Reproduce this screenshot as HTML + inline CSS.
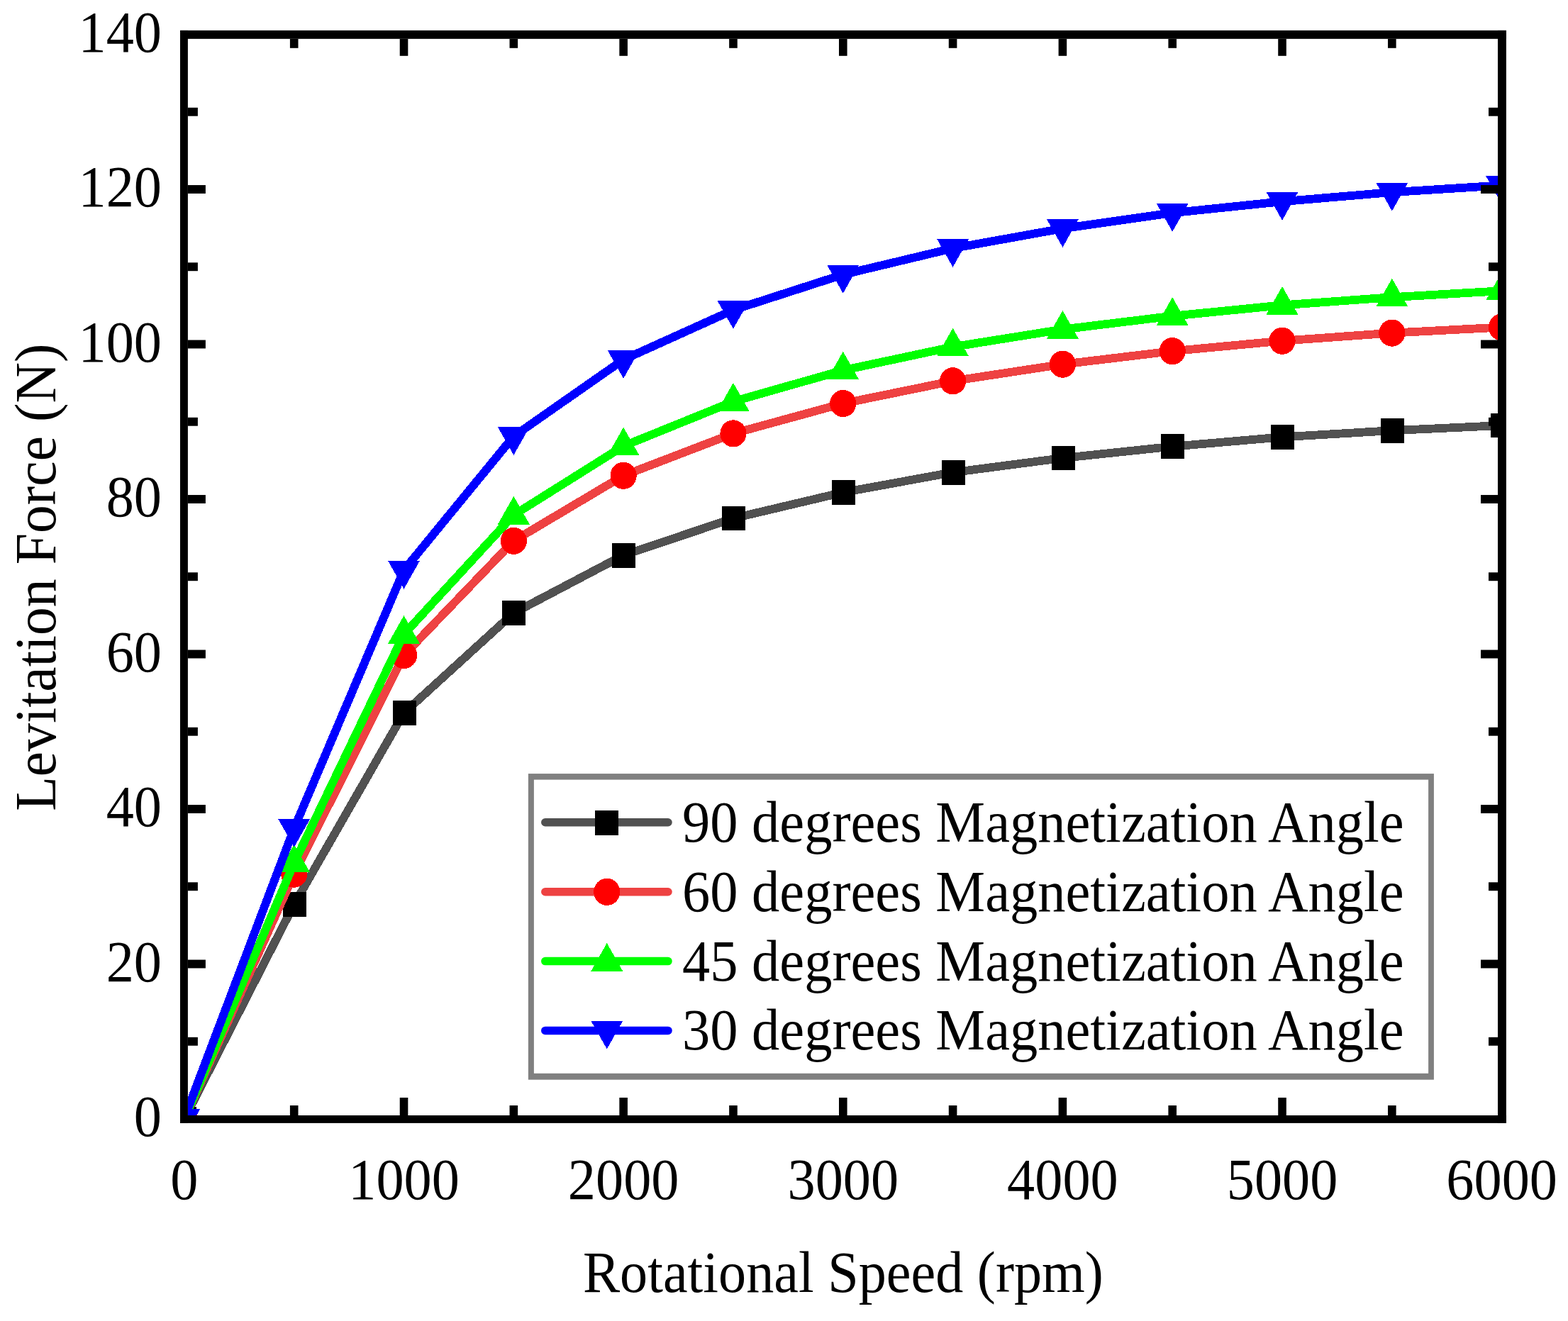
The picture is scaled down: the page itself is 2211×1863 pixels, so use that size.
<!DOCTYPE html>
<html><head><meta charset="utf-8"><title>Levitation Force vs Rotational Speed</title>
<style>html,body{margin:0;padding:0;background:#fff;}svg{display:block;}</style></head>
<body>
<svg width="2211" height="1863" viewBox="0 0 2211 1863" font-family="'Liberation Serif', 'Times New Roman', serif" font-size="78.3" fill="#000">
<defs><clipPath id="c"><rect x="264.9" y="54.8" width="1847.1" height="1518.2"/></clipPath></defs>
<rect width="2211" height="1863" fill="#fff"/>
<g clip-path="url(#c)" shape-rendering="crispEdges"><polyline points="259.90,1578.00 414.71,1275.50 569.52,1005.50 724.34,864.50 879.15,783.10 1033.96,731.00 1188.78,694.40 1343.59,666.20 1498.40,646.00 1653.21,629.70 1808.03,616.40 1962.84,607.20 2117.65,600.00" fill="none" stroke="#515151" stroke-width="11.8" stroke-linejoin="round" stroke-linecap="round"/><rect x="244.00" y="1560.60" width="33.0" height="34.8" fill="#000000"/><rect x="398.81" y="1258.10" width="33.0" height="34.8" fill="#000000"/><rect x="553.62" y="988.10" width="33.0" height="34.8" fill="#000000"/><rect x="708.44" y="847.10" width="33.0" height="34.8" fill="#000000"/><rect x="863.25" y="765.70" width="33.0" height="34.8" fill="#000000"/><rect x="1018.06" y="713.60" width="33.0" height="34.8" fill="#000000"/><rect x="1172.88" y="677.00" width="33.0" height="34.8" fill="#000000"/><rect x="1327.69" y="648.80" width="33.0" height="34.8" fill="#000000"/><rect x="1482.50" y="628.60" width="33.0" height="34.8" fill="#000000"/><rect x="1637.31" y="612.30" width="33.0" height="34.8" fill="#000000"/><rect x="1792.12" y="599.00" width="33.0" height="34.8" fill="#000000"/><rect x="1946.94" y="589.80" width="33.0" height="34.8" fill="#000000"/><rect x="2101.75" y="582.60" width="33.0" height="34.8" fill="#000000"/><polyline points="259.90,1578.00 414.71,1232.60 569.52,924.00 724.34,762.80 879.15,670.75 1033.96,611.40 1188.78,569.00 1343.59,537.30 1498.40,513.70 1653.21,495.20 1808.03,480.70 1962.84,469.60 2117.65,461.50" fill="none" stroke="#EE4242" stroke-width="11.8" stroke-linejoin="round" stroke-linecap="round"/><ellipse cx="259.90" cy="1578.00" rx="18.6" ry="19.1" fill="#FF0000"/><ellipse cx="414.71" cy="1232.60" rx="18.6" ry="19.1" fill="#FF0000"/><ellipse cx="569.52" cy="924.00" rx="18.6" ry="19.1" fill="#FF0000"/><ellipse cx="724.34" cy="762.80" rx="18.6" ry="19.1" fill="#FF0000"/><ellipse cx="879.15" cy="670.75" rx="18.6" ry="19.1" fill="#FF0000"/><ellipse cx="1033.96" cy="611.40" rx="18.6" ry="19.1" fill="#FF0000"/><ellipse cx="1188.78" cy="569.00" rx="18.6" ry="19.1" fill="#FF0000"/><ellipse cx="1343.59" cy="537.30" rx="18.6" ry="19.1" fill="#FF0000"/><ellipse cx="1498.40" cy="513.70" rx="18.6" ry="19.1" fill="#FF0000"/><ellipse cx="1653.21" cy="495.20" rx="18.6" ry="19.1" fill="#FF0000"/><ellipse cx="1808.03" cy="480.70" rx="18.6" ry="19.1" fill="#FF0000"/><ellipse cx="1962.84" cy="469.60" rx="18.6" ry="19.1" fill="#FF0000"/><ellipse cx="2117.65" cy="461.50" rx="18.6" ry="19.1" fill="#FF0000"/><polyline points="259.90,1578.00 414.71,1217.20 569.52,894.60 724.34,726.30 879.15,629.10 1033.96,566.30 1188.78,522.20 1343.59,489.20 1498.40,464.50 1653.21,445.70 1808.03,430.40 1962.84,419.20 2117.65,410.20" fill="none" stroke="#00FF00" stroke-width="11.8" stroke-linejoin="round" stroke-linecap="round"/><polygon points="259.90,1551.47 282.40,1591.27 237.40,1591.27" fill="#00FF00"/><polygon points="414.71,1190.67 437.21,1230.47 392.21,1230.47" fill="#00FF00"/><polygon points="569.52,868.07 592.02,907.87 547.02,907.87" fill="#00FF00"/><polygon points="724.34,699.77 746.84,739.57 701.84,739.57" fill="#00FF00"/><polygon points="879.15,602.57 901.65,642.37 856.65,642.37" fill="#00FF00"/><polygon points="1033.96,539.77 1056.46,579.57 1011.46,579.57" fill="#00FF00"/><polygon points="1188.78,495.67 1211.28,535.47 1166.28,535.47" fill="#00FF00"/><polygon points="1343.59,462.67 1366.09,502.47 1321.09,502.47" fill="#00FF00"/><polygon points="1498.40,437.97 1520.90,477.77 1475.90,477.77" fill="#00FF00"/><polygon points="1653.21,419.17 1675.71,458.97 1630.71,458.97" fill="#00FF00"/><polygon points="1808.03,403.87 1830.53,443.67 1785.53,443.67" fill="#00FF00"/><polygon points="1962.84,392.67 1985.34,432.47 1940.34,432.47" fill="#00FF00"/><polygon points="2117.65,383.67 2140.15,423.47 2095.15,423.47" fill="#00FF00"/><polyline points="259.90,1577.00 414.71,1168.30 569.52,804.10 724.34,615.30 879.15,507.20 1033.96,437.20 1188.78,387.20 1343.59,350.20 1498.40,322.30 1653.21,300.20 1808.03,284.20 1962.84,271.10 2117.65,261.40" fill="none" stroke="#0000FF" stroke-width="11.8" stroke-linejoin="round" stroke-linecap="round"/><polygon points="237.40,1563.73 282.40,1563.73 259.90,1603.53" fill="#0000FF"/><polygon points="392.21,1155.03 437.21,1155.03 414.71,1194.83" fill="#0000FF"/><polygon points="547.02,790.83 592.02,790.83 569.52,830.63" fill="#0000FF"/><polygon points="701.84,602.03 746.84,602.03 724.34,641.83" fill="#0000FF"/><polygon points="856.65,493.93 901.65,493.93 879.15,533.73" fill="#0000FF"/><polygon points="1011.46,423.93 1056.46,423.93 1033.96,463.73" fill="#0000FF"/><polygon points="1166.28,373.93 1211.28,373.93 1188.78,413.73" fill="#0000FF"/><polygon points="1321.09,336.93 1366.09,336.93 1343.59,376.73" fill="#0000FF"/><polygon points="1475.90,309.03 1520.90,309.03 1498.40,348.83" fill="#0000FF"/><polygon points="1630.71,286.93 1675.71,286.93 1653.21,326.73" fill="#0000FF"/><polygon points="1785.53,270.93 1830.53,270.93 1808.03,310.73" fill="#0000FF"/><polygon points="1940.34,257.83 1985.34,257.83 1962.84,297.63" fill="#0000FF"/><polygon points="2095.15,248.13 2140.15,248.13 2117.65,287.93" fill="#0000FF"/></g>
<g fill="#000"><rect x="254.00" y="42.90" width="10.90" height="1541.00"/><rect x="2112.00" y="42.90" width="11.90" height="1541.00"/><rect x="254.00" y="42.90" width="1869.90" height="11.90"/><rect x="254.00" y="1573.00" width="1869.90" height="10.90"/><rect x="408.91" y="1559.00" width="11.60" height="14.00"/><rect x="408.91" y="54.80" width="11.60" height="13.00"/><rect x="563.73" y="1548.00" width="11.60" height="25.00"/><rect x="563.73" y="54.80" width="11.60" height="24.00"/><rect x="718.54" y="1559.00" width="11.60" height="14.00"/><rect x="718.54" y="54.80" width="11.60" height="13.00"/><rect x="873.35" y="1548.00" width="11.60" height="25.00"/><rect x="873.35" y="54.80" width="11.60" height="24.00"/><rect x="1028.16" y="1559.00" width="11.60" height="14.00"/><rect x="1028.16" y="54.80" width="11.60" height="13.00"/><rect x="1182.98" y="1548.00" width="11.60" height="25.00"/><rect x="1182.98" y="54.80" width="11.60" height="24.00"/><rect x="1337.79" y="1559.00" width="11.60" height="14.00"/><rect x="1337.79" y="54.80" width="11.60" height="13.00"/><rect x="1492.60" y="1548.00" width="11.60" height="25.00"/><rect x="1492.60" y="54.80" width="11.60" height="24.00"/><rect x="1647.41" y="1559.00" width="11.60" height="14.00"/><rect x="1647.41" y="54.80" width="11.60" height="13.00"/><rect x="1802.23" y="1548.00" width="11.60" height="25.00"/><rect x="1802.23" y="54.80" width="11.60" height="24.00"/><rect x="1957.04" y="1559.00" width="11.60" height="14.00"/><rect x="1957.04" y="54.80" width="11.60" height="13.00"/><rect x="264.90" y="1462.80" width="14.00" height="11.90"/><rect x="2099.00" y="1462.80" width="13.00" height="11.90"/><rect x="264.90" y="1353.55" width="25.00" height="11.90"/><rect x="2088.00" y="1353.55" width="24.00" height="11.90"/><rect x="264.90" y="1244.30" width="14.00" height="11.90"/><rect x="2099.00" y="1244.30" width="13.00" height="11.90"/><rect x="264.90" y="1135.05" width="25.00" height="11.90"/><rect x="2088.00" y="1135.05" width="24.00" height="11.90"/><rect x="264.90" y="1025.80" width="14.00" height="11.90"/><rect x="2099.00" y="1025.80" width="13.00" height="11.90"/><rect x="264.90" y="916.55" width="25.00" height="11.90"/><rect x="2088.00" y="916.55" width="24.00" height="11.90"/><rect x="264.90" y="807.30" width="14.00" height="11.90"/><rect x="2099.00" y="807.30" width="13.00" height="11.90"/><rect x="264.90" y="698.05" width="25.00" height="11.90"/><rect x="2088.00" y="698.05" width="24.00" height="11.90"/><rect x="264.90" y="588.80" width="14.00" height="11.90"/><rect x="2099.00" y="588.80" width="13.00" height="11.90"/><rect x="264.90" y="479.55" width="25.00" height="11.90"/><rect x="2088.00" y="479.55" width="24.00" height="11.90"/><rect x="264.90" y="370.30" width="14.00" height="11.90"/><rect x="2099.00" y="370.30" width="13.00" height="11.90"/><rect x="264.90" y="261.05" width="25.00" height="11.90"/><rect x="2088.00" y="261.05" width="24.00" height="11.90"/><rect x="264.90" y="151.80" width="14.00" height="11.90"/><rect x="2099.00" y="151.80" width="13.00" height="11.90"/></g>
<rect x="744.9" y="1091.1" width="1277.0" height="431.6" fill="#808080"/><rect x="752.9" y="1099.6" width="1261.2" height="414.2" fill="#fff"/>
<line x1="768.8" y1="1159.7" x2="942" y2="1159.7" stroke="#515151" stroke-width="11.5" stroke-linecap="round"/>
<g shape-rendering="crispEdges"><rect x="839.30" y="1143.10" width="33.0" height="34.8" fill="#000000"/></g>
<text transform="translate(962.00,1187.00) scale(1,1.0556)" font-size="78.48" text-anchor="start">90 degrees Magnetization Angle</text>
<line x1="768.8" y1="1257.7" x2="942" y2="1257.7" stroke="#EE4242" stroke-width="11.5" stroke-linecap="round"/>
<g shape-rendering="crispEdges"><ellipse cx="855.80" cy="1257.80" rx="18.6" ry="19.1" fill="#FF0000"/></g>
<text transform="translate(962.00,1285.00) scale(1,1.0556)" font-size="78.48" text-anchor="start">60 degrees Magnetization Angle</text>
<line x1="768.8" y1="1355.6" x2="942" y2="1355.6" stroke="#00FF00" stroke-width="11.5" stroke-linecap="round"/>
<g shape-rendering="crispEdges"><polygon points="855.80,1329.97 878.30,1369.77 833.30,1369.77" fill="#00FF00"/></g>
<text transform="translate(962.00,1382.90) scale(1,1.0556)" font-size="78.48" text-anchor="start">45 degrees Magnetization Angle</text>
<line x1="768.8" y1="1453.4" x2="942" y2="1453.4" stroke="#0000FF" stroke-width="11.5" stroke-linecap="round"/>
<g shape-rendering="crispEdges"><polygon points="833.30,1439.63 878.30,1439.63 855.80,1479.43" fill="#0000FF"/></g>
<text transform="translate(962.00,1479.70) scale(1,1.0556)" font-size="78.48" text-anchor="start">30 degrees Magnetization Angle</text>
<text transform="translate(228.00,1602.30) scale(1,1.0542)" font-size="78.30" text-anchor="end">0</text>
<text transform="translate(228.00,1383.80) scale(1,1.0542)" font-size="78.30" text-anchor="end">20</text>
<text transform="translate(228.00,1165.30) scale(1,1.0542)" font-size="78.30" text-anchor="end">40</text>
<text transform="translate(228.00,946.80) scale(1,1.0542)" font-size="78.30" text-anchor="end">60</text>
<text transform="translate(228.00,728.30) scale(1,1.0542)" font-size="78.30" text-anchor="end">80</text>
<text transform="translate(228.00,509.80) scale(1,1.0542)" font-size="78.30" text-anchor="end">100</text>
<text transform="translate(228.00,291.30) scale(1,1.0542)" font-size="78.30" text-anchor="end">120</text>
<text transform="translate(228.00,72.80) scale(1,1.0542)" font-size="78.30" text-anchor="end">140</text>
<text transform="translate(259.90,1690.70) scale(1,1.0454)" font-size="78.30" text-anchor="middle">0</text>
<text transform="translate(569.52,1690.70) scale(1,1.0454)" font-size="78.30" text-anchor="middle">1000</text>
<text transform="translate(879.15,1690.70) scale(1,1.0454)" font-size="78.30" text-anchor="middle">2000</text>
<text transform="translate(1188.78,1690.70) scale(1,1.0454)" font-size="78.30" text-anchor="middle">3000</text>
<text transform="translate(1498.40,1690.70) scale(1,1.0454)" font-size="78.30" text-anchor="middle">4000</text>
<text transform="translate(1808.03,1690.70) scale(1,1.0454)" font-size="78.30" text-anchor="middle">5000</text>
<text transform="translate(2117.65,1690.70) scale(1,1.0454)" font-size="78.30" text-anchor="middle">6000</text>
<text transform="translate(1188.90,1822.30) scale(1,1.0505)" font-size="78.20" text-anchor="middle">Rotational Speed (rpm)</text>
<text transform="translate(77.90,814.10) rotate(-90) scale(1,1.0250)" font-size="79.71" text-anchor="middle">Levitation Force (N)</text>
</svg>
</body></html>
